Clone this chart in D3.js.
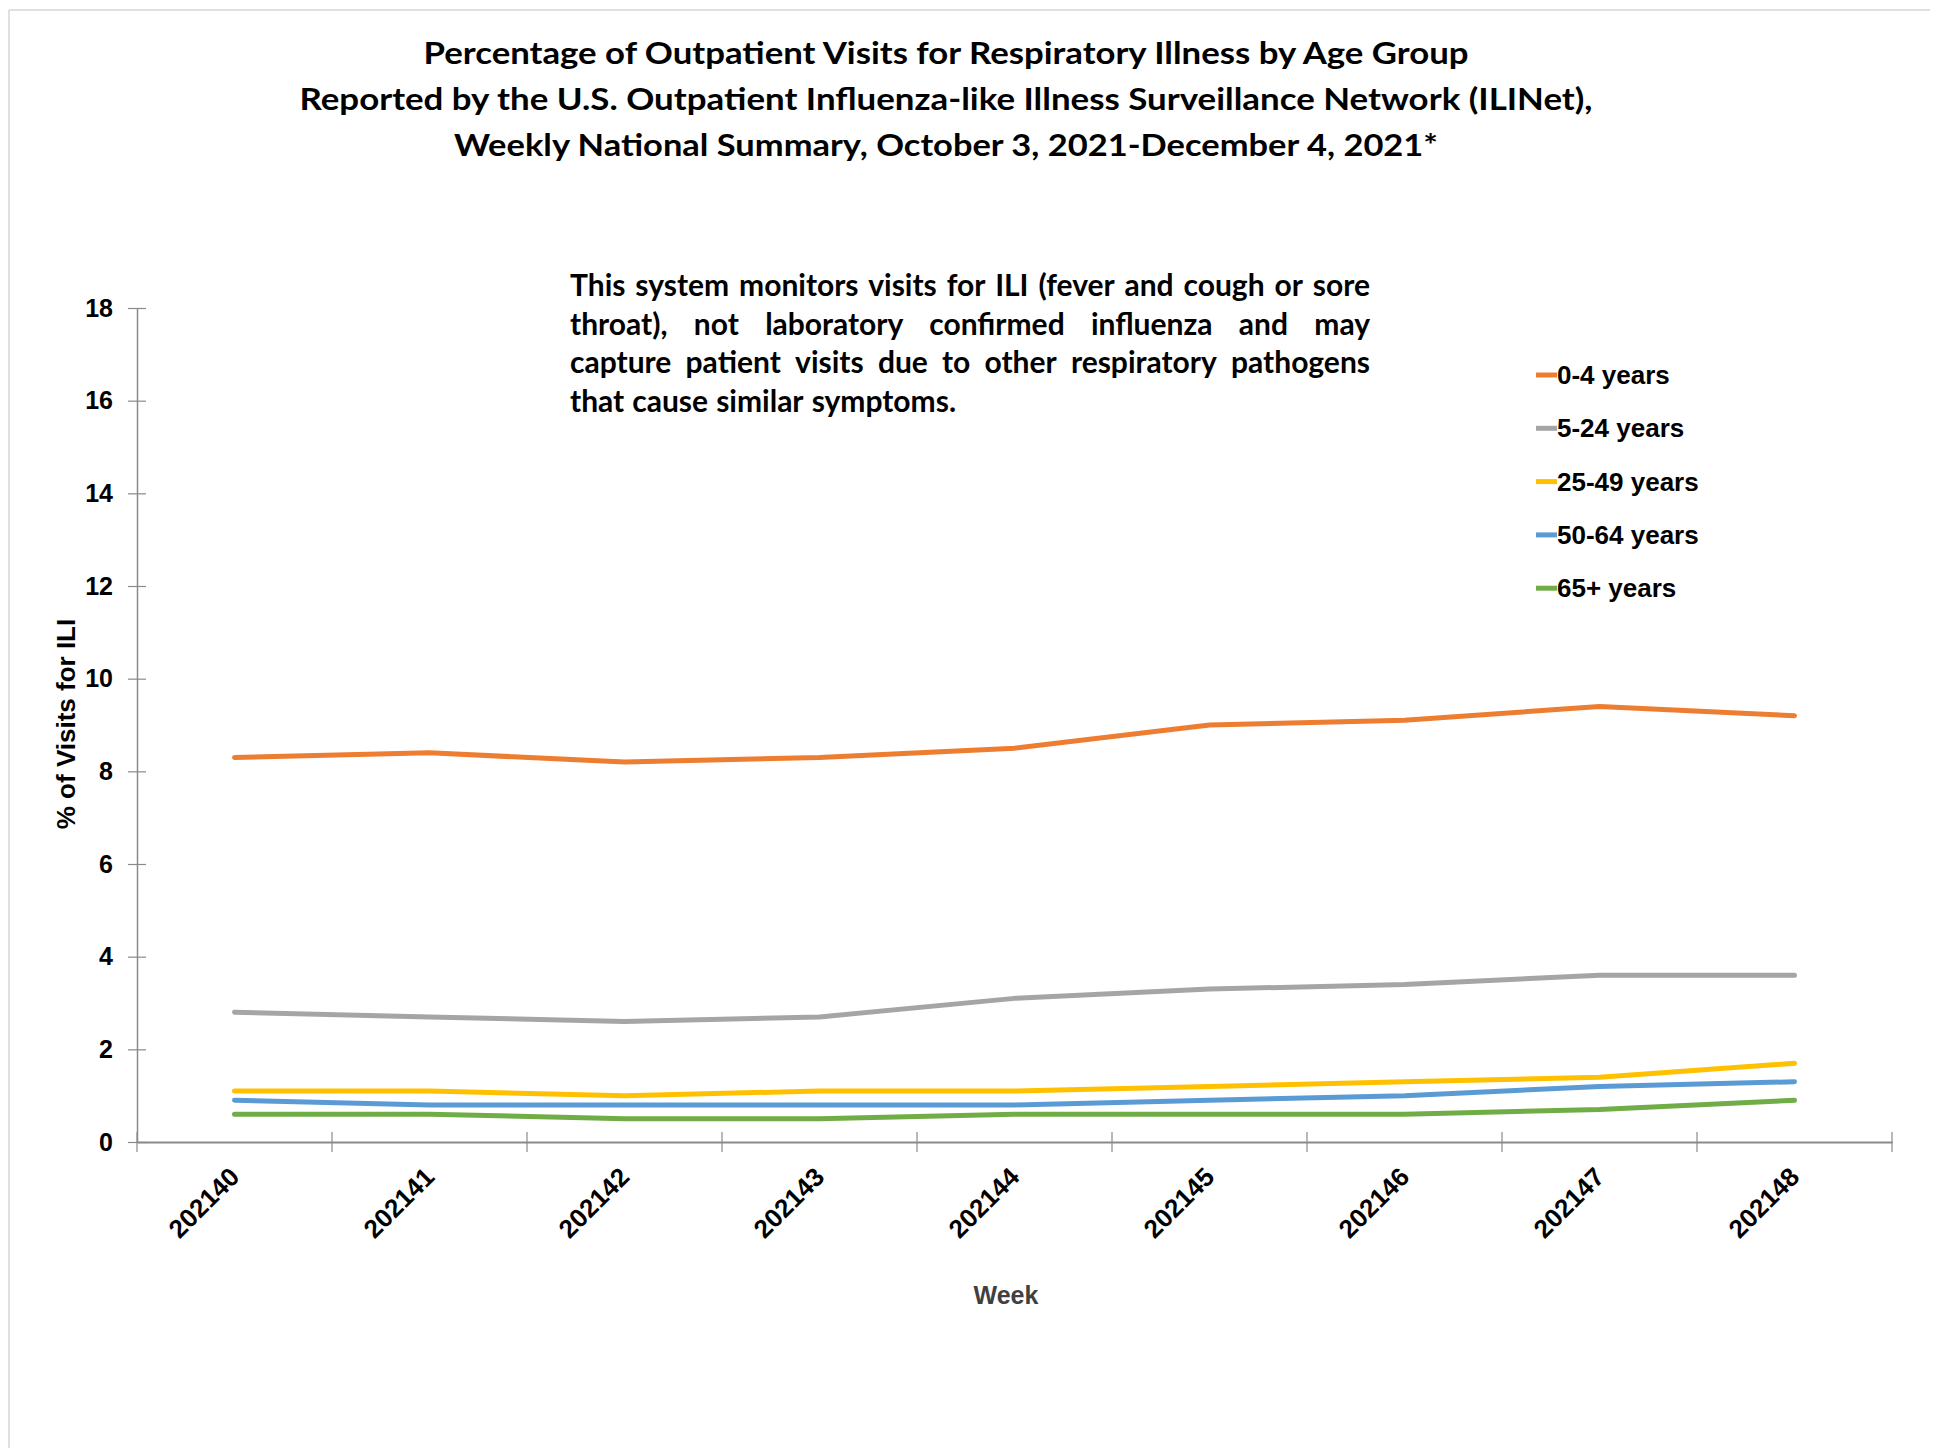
<!DOCTYPE html>
<html>
<head>
<meta charset="utf-8">
<script src="https://cdn.jsdelivr.net/npm/d3@7"></script>
<style>
  html, body { margin: 0; padding: 0; background: #fff; }
  svg { display: block; }
</style>
</head>
<body>
<svg id="chart" width="1942" height="1448"></svg>
<script>
// ILINet weekly percentages by age group
const weeks = ["202140", "202141", "202142", "202143", "202144", "202145", "202146", "202147", "202148"];
const ageGroups = ["0-4 years", "5-24 years", "25-49 years", "50-64 years", "65+ years"];
const pctAge0to4   = [8.3, 8.4, 8.2, 8.3, 8.5, 9.0, 9.1, 9.4, 9.2];
const pctAge5to24  = [2.8, 2.7, 2.6, 2.7, 3.1, 3.3, 3.4, 3.6, 3.6];
const pctAge25to49 = [1.1, 1.1, 1.0, 1.1, 1.1, 1.2, 1.3, 1.4, 1.7];
const pctAge50to64 = [0.9, 0.8, 0.8, 0.8, 0.8, 0.9, 1.0, 1.2, 1.3];
const pctAge65plus = [0.6, 0.6, 0.5, 0.5, 0.6, 0.6, 0.6, 0.7, 0.9];
const yTickValues = [0, 2, 4, 6, 8, 10, 12, 14, 16, 18];

const titleLines = [
  "Percentage of Outpatient Visits for Respiratory Illness by Age Group",
  "Reported by the U.S. Outpatient Influenza-like Illness Surveillance Network (ILINet),",
  "Weekly National Summary, October 3, 2021-December 4, 2021*"
];
const noteLines = [
  "This system monitors visits for ILI (fever and cough or sore",
  "throat), not laboratory confirmed influenza and may",
  "capture patient visits due to other respiratory pathogens",
  "that cause similar symptoms."
];

const seriesValues = [pctAge0to4, pctAge5to24, pctAge25to49, pctAge50to64, pctAge65plus];
const seriesColors = ["#ED7D31", "#A5A5A5", "#FFC000", "#5B9BD5", "#70AD47"];

const svg = d3.select("#chart");
const axisColor = "#8a8a8a";
const tickFont = "'Liberation Sans', Arial, sans-serif";
const titleFont = "Lato, 'Open Sans', sans-serif";

// light frame along the top and left edges
svg.append("line").attr("x1", 9).attr("x2", 1930).attr("y1", 10).attr("y2", 10)
  .attr("stroke", "#d6d6d6").attr("stroke-width", 1.5);
svg.append("line").attr("x1", 9).attr("x2", 9).attr("y1", 10).attr("y2", 1448)
  .attr("stroke", "#d6d6d6").attr("stroke-width", 1.5);

// title
const titleWidths = [1045, 1293, 984];
svg.append("g").selectAll("text").data(titleLines).join("text")
  .attr("x", 946)
  .attr("y", (d, i) => 64 + i * 46)
  .attr("text-anchor", "middle")
  .attr("font-family", titleFont)
  .attr("font-weight", 700)
  .attr("font-size", 31)
  .attr("fill", "#000")
  .attr("textLength", (d, i) => titleWidths[i])
  .attr("lengthAdjust", "spacingAndGlyphs")
  .text(d => d);

// plot area
const plot = { left: 137, right: 1892, top: 308, bottom: 1142 };

const x = d3.scaleBand().domain(weeks).range([plot.left, plot.right]).paddingInner(0).paddingOuter(0);
const y = d3.scaleLinear().domain([0, 18]).range([plot.bottom, plot.top]);
const xc = w => x(w) + x.bandwidth() / 2;

// y axis
const yAxis = svg.append("g")
  .attr("transform", `translate(${plot.left},0)`)
  .call(d3.axisLeft(y).tickValues(yTickValues).tickSize(0).tickPadding(24));
yAxis.select(".domain").attr("stroke", axisColor).attr("stroke-width", 1.5);
yAxis.selectAll(".tick line").attr("x1", -9).attr("x2", 9).attr("stroke", axisColor).attr("stroke-width", 1.2);
yAxis.selectAll(".tick text")
  .attr("font-family", tickFont).attr("font-weight", 700).attr("font-size", 25).attr("fill", "#000");

// x axis: labels at band centres, tick marks at band edges
const xAxis = svg.append("g")
  .attr("transform", `translate(0,${plot.bottom})`)
  .call(d3.axisBottom(x).tickSize(0).tickSizeOuter(0));
xAxis.select(".domain").attr("stroke", axisColor).attr("stroke-width", 2.2);
xAxis.selectAll(".tick text")
  .attr("font-family", tickFont).attr("font-weight", 700).attr("font-size", 26).attr("fill", "#000")
  .attr("text-anchor", "end")
  .attr("x", 0).attr("y", 0).attr("dy", "0.35em")
  .attr("transform", "translate(0,30) rotate(-45)");

const edges = weeks.map(w => x(w)).concat([plot.right]);
svg.append("g").selectAll("line").data(edges).join("line")
  .attr("x1", d => d).attr("x2", d => d)
  .attr("y1", plot.bottom - 10).attr("y2", plot.bottom + 10)
  .attr("stroke", axisColor).attr("stroke-width", 1.2);

// axis titles
svg.append("text")
  .attr("transform", `translate(66,724) rotate(-90)`)
  .attr("text-anchor", "middle").attr("dy", "0.35em")
  .attr("font-family", tickFont).attr("font-weight", 700).attr("font-size", 26).attr("fill", "#000")
  .text("% of Visits for ILI");
svg.append("text")
  .attr("x", 1006).attr("y", 1304)
  .attr("text-anchor", "middle")
  .attr("font-family", tickFont).attr("font-weight", 700).attr("font-size", 25).attr("fill", "#404040")
  .text("Week");

// series lines
const line = d3.line().x((d, i) => xc(weeks[i])).y(d => y(d));
svg.append("g").selectAll("path").data(seriesValues).join("path")
  .attr("d", d => line(d))
  .attr("fill", "none")
  .attr("stroke", (d, i) => seriesColors[i])
  .attr("stroke-width", 5)
  .attr("stroke-linejoin", "round")
  .attr("stroke-linecap", "round");

// justified note
const noteLeft = 570, noteRight = 1370, noteSize = 30;
const note = svg.append("g");
noteLines.forEach((txt, li) => {
  const words = txt.split(" ");
  const t = note.append("text")
    .attr("y", 296 + li * 38.5)
    .attr("font-family", titleFont).attr("font-weight", 700).attr("font-size", noteSize).attr("fill", "#000");
  const spans = words.map(w => t.append("tspan").text(w));
  const widths = spans.map(s => s.node().getComputedTextLength());
  const total = d3.sum(widths);
  const justify = li < noteLines.length - 1;
  const gap = justify ? (noteRight - noteLeft - total) / (words.length - 1) : noteSize * 0.27;
  let cx = noteLeft;
  spans.forEach((s, i) => { s.attr("x", cx); cx += widths[i] + gap; });
});

// legend
const legend = svg.append("g").selectAll("g").data(ageGroups).join("g")
  .attr("transform", (d, i) => `translate(1536,${375 + i * 53.3})`);
legend.append("line").attr("x1", 0).attr("x2", 21).attr("y1", 0).attr("y2", 0)
  .attr("stroke", (d, i) => seriesColors[i]).attr("stroke-width", 5);
legend.append("text").attr("x", 21).attr("dy", "0.35em")
  .attr("font-family", tickFont).attr("font-weight", 700).attr("font-size", 26).attr("fill", "#000")
  .text(d => d);
</script>
</body>
</html>
